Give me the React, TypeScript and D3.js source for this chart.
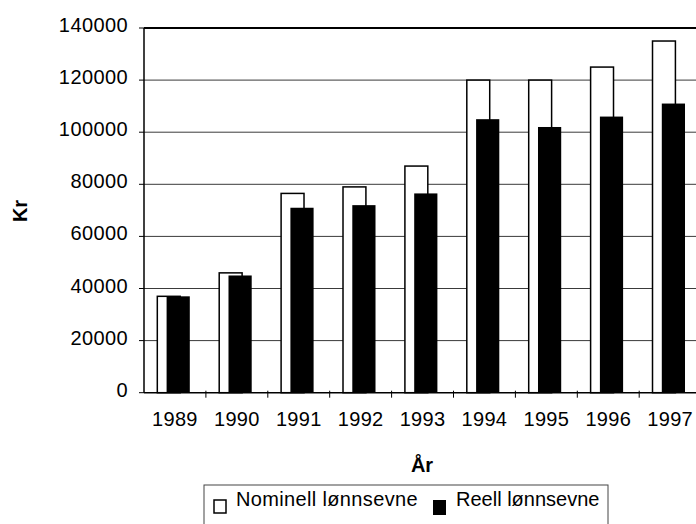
import * as d3 from 'd3';

const W = 696;
const H = 524;

const years = ['1989', '1990', '1991', '1992', '1993', '1994', '1995', '1996', '1997'];
const nominell = [37000, 46000, 76500, 79000, 87000, 120000, 120000, 125000, 135000];
const reell = [37000, 45000, 71000, 72000, 76500, 105000, 102000, 106000, 111000];
const yTicks = [0, 20000, 40000, 60000, 80000, 100000, 120000, 140000];

const font = 'Liberation Sans, Arial, sans-serif';

const App = () => {
  // plot area, right side runs out of the picture
  const left = 144;
  const top = 28;
  const bottom = 392.7;
  const right = left + 9 * 61.9;

  const x = d3.scaleBand().domain(years).range([left, right]).padding(0);
  const y = d3.scaleLinear().domain([0, 140000]).range([bottom, top]);
  const bw = x.bandwidth();

  return (
    <svg
      width={W}
      height={H}
      style={{ position: 'absolute', left: 0, top: 0, background: '#fff' }}
      fontFamily={font}
    >
      {/* gridlines */}
      {yTicks.slice(1, -1).map(t => (
        <line key={t} x1={left} x2={W} y1={y(t)} y2={y(t)} stroke="#3a3a3a" strokeWidth={1} />
      ))}
      <line x1={left} x2={W} y1={y(140000)} y2={y(140000)} stroke="#000" strokeWidth={2} />

      {/* bars */}
      {years.map((yr, i) => (
        <g key={yr}>
          <rect
            x={(x(yr) ?? 0) + bw * 0.215}
            y={y(nominell[i])}
            width={bw * 0.37}
            height={bottom - y(nominell[i])}
            fill="#fff"
            stroke="#000"
            strokeWidth={1.5}
          />
          <rect
            x={(x(yr) ?? 0) + bw * 0.365}
            y={y(reell[i])}
            width={bw * 0.375}
            height={bottom - y(reell[i])}
            fill="#000"
          />
        </g>
      ))}

      {/* axes */}
      <line x1={left} x2={left} y1={top} y2={bottom} stroke="#000" strokeWidth={1.5} />
      <line x1={left} x2={W} y1={bottom} y2={bottom} stroke="#000" strokeWidth={1.5} />
      {yTicks.map(t => (
        <g key={t}>
          <line x1={left - 5} x2={left} y1={y(t)} y2={y(t)} stroke="#000" />
          <text x={128} y={y(t) + 4} textAnchor="end" fontSize={20} letterSpacing={0.4}>
            {t}
          </text>
        </g>
      ))}
      {years.map(yr => (
        <g key={yr}>
          <line
            x1={(x(yr) ?? 0) + bw}
            x2={(x(yr) ?? 0) + bw}
            y1={bottom - 2}
            y2={bottom + 5}
            stroke="#000"
          />
          <text x={(x(yr) ?? 0) + bw / 2} y={426} textAnchor="middle" fontSize={20} letterSpacing={0.3}>
            {yr}
          </text>
        </g>
      ))}

      {/* axis titles */}
      <text
        transform="translate(26.5,211) rotate(-90)"
        textAnchor="middle"
        fontSize={20}
        fontWeight="bold"
      >
        Kr
      </text>
      <text x={422} y={471.5} textAnchor="middle" fontSize={20} fontWeight="bold">
        År
      </text>

      {/* legend */}
      <rect x={204} y={485} width={404} height={50} fill="none" stroke="#444" strokeWidth={1} />
      <rect x={214} y={500} width={12} height={13} fill="#fff" stroke="#000" strokeWidth={1.5} />
      <text x={236} y={506} fontSize={20} letterSpacing={0.35}>
        Nominell lønnsevne
      </text>
      <rect x={433} y={500} width={13} height={15} fill="#000" />
      <text x={456} y={506} fontSize={20}>
        Reell lønnsevne
      </text>
    </svg>
  );
};

export default App;
